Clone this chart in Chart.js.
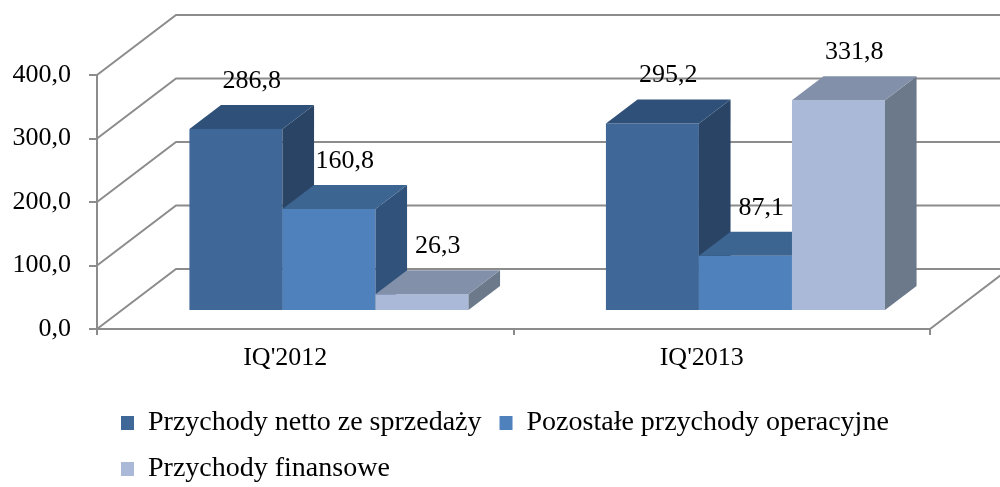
<!DOCTYPE html>
<html>
<head>
<meta charset="utf-8">
<title>Przychody IQ'2012 - IQ'2013</title>
<script src="https://cdn.jsdelivr.net/npm/chart.js"></script>
<style>
body{ margin:0; background:#fff; }
.canvas_div{
    width: 1000px;
    height: 487px;
}
</style>
</head>
<body>
<div class="canvas_div">
    <canvas id="myChart"></canvas>
</div>
<script>
// dane
const labels = ["IQ'2012", "IQ'2013"];
const seriesNames = ['Przychody netto ze sprzedaży', 'Pozostałe przychody operacyjne', 'Przychody finansowe'];
const sales = [286.8, 295.2];
const otherOperating = [160.8, 87.1];
const financial = [26.3, 331.8];
const yTicks = [0, 100, 200, 300, 400];

// kolory: przód, góra, bok
const frontColors = ['#3f6797', '#4f81bd', '#a9b9d7'];
const topColors = ['#2f5179', '#3d6591', '#8290a9'];
const sideColors = ['#2a4466', '#30527b', '#6c798a'];
const GRID = '#8c8c8c';

const DEPTH = {x: 79, y: -60}; // przesunięcie tylnej ściany
const BAR_FRONT = 0.3;          // przód słupka (ułamek głębokości)
const BAR_DEPTH = 0.4;          // głębokość słupka

function fmt(v){ return v.toFixed(1).replace('.', ','); }

Chart.defaults.font.family = "'Liberation Serif', serif";
Chart.defaults.font.size = 26;
Chart.defaults.color = '#000';

// efekt 3D: tylna ściana, boki i góry słupków, etykiety
const box3d = {
    id: 'box3d',
    beforeDraw(chart){
        // legenda od lewej jak w Excelu
        const lg = chart.legend;
        lg.left = 121 - lg.options.labels.padding;
    },
    beforeDatasetsDraw(chart){
        const ctx = chart.ctx, a = chart.chartArea, y = chart.scales.y;
        ctx.save();
        ctx.strokeStyle = GRID;
        ctx.lineWidth = 2;
        ctx.beginPath();
        y.ticks.forEach(function(t){
            const py = y.getPixelForValue(t.value);
            ctx.moveTo(a.left, py);
            ctx.lineTo(a.left + DEPTH.x, py + DEPTH.y);
            ctx.lineTo(chart.width, py + DEPTH.y);
        });
        ctx.moveTo(a.right, a.bottom);
        ctx.lineTo(a.right + DEPTH.x, a.bottom + DEPTH.y);
        ctx.stroke();
        ctx.restore();
    },
    beforeDatasetDraw(){
        // słupki rysujemy sami w kolejności od lewej do prawej
        return false;
    },
    afterDatasetsDraw(chart){
        const ctx = chart.ctx;
        const ox = DEPTH.x * BAR_FRONT, oy = DEPTH.y * BAR_FRONT;
        const dx = DEPTH.x * BAR_DEPTH, dy = DEPTH.y * BAR_DEPTH;
        const n = chart.data.datasets.length;
        for (let j = 0; j < labels.length; j++) {
            for (let i = 0; i < n; i++) {
                const bar = chart.getDatasetMeta(i).data[j];
                ctx.save();
                ctx.translate(ox, oy);
                bar.draw(ctx);
                ctx.restore();
                const l = bar.x - bar.width / 2 + ox, r = bar.x + bar.width / 2 + ox;
                const t = bar.y + oy, b = bar.base + oy;
                ctx.fillStyle = sideColors[i];
                ctx.beginPath();
                ctx.moveTo(r, t); ctx.lineTo(r + dx, t + dy); ctx.lineTo(r + dx, b + dy); ctx.lineTo(r, b);
                ctx.closePath(); ctx.fill();
                ctx.fillStyle = topColors[i];
                ctx.beginPath();
                ctx.moveTo(l, t); ctx.lineTo(l + dx, t + dy); ctx.lineTo(r + dx, t + dy); ctx.lineTo(r, t);
                ctx.closePath(); ctx.fill();
            }
        }
        // etykiety wartości
        ctx.save();
        ctx.font = "26px 'Liberation Serif', serif";
        ctx.fillStyle = '#000';
        ctx.textAlign = 'center';
        ctx.textBaseline = 'middle';
        chart.data.datasets.forEach(function(ds, i){
            chart.getDatasetMeta(i).data.forEach(function(bar, j){
                ctx.fillText(fmt(ds.data[j]), bar.x + ox + dx / 2, bar.y + oy + dy - 24);
            });
        });
        ctx.restore();
    }
};

const data = {
    labels: labels,
    datasets: [
        { label: seriesNames[0], data: sales, backgroundColor: frontColors[0] },
        { label: seriesNames[1], data: otherOperating, backgroundColor: frontColors[1] },
        { label: seriesNames[2], data: financial, backgroundColor: frontColors[2] }
    ]
};

const config = {
    type: 'bar',
    data: data,
    options: {
        responsive: true,
        maintainAspectRatio: false,
        animation: false,
        categoryPercentage: 0.67,
        barPercentage: 1.0,
        layout: { padding: { top: 75, right: 70, left: 0, bottom: -6 } },
        plugins: {
            legend: {
                position: 'bottom',
                align: 'start',
                labels: {
                    boxWidth: 13,
                    boxHeight: 14,
                    padding: 18,
                    font: { size: 28 }
                }
            },
            tooltip: { enabled: false }
        },
        scales: {
            x: {
                grid: { drawOnChartArea: false, tickLength: 6, color: GRID, lineWidth: 2, offset: true },
                border: { color: GRID, width: 2 },
                ticks: { padding: 8, labelOffset: -20 },
                afterFit: function(s){ s.height = 62; }
            },
            y: {
                min: 0,
                max: 400,
                afterBuildTicks: function(s){ s.ticks = yTicks.map(function(v){ return {value: v}; }); },
                ticks: { padding: 18, callback: function(v){ return fmt(v); } },
                grid: { drawOnChartArea: false, tickLength: 8, color: GRID, lineWidth: 2 },
                border: { color: GRID, width: 2 },
                afterFit: function(s){ s.width = 97; }
            }
        }
    },
    plugins: [box3d]
};

var myChart = new Chart(document.getElementById('myChart'), config);
</script>
</body>
</html>
